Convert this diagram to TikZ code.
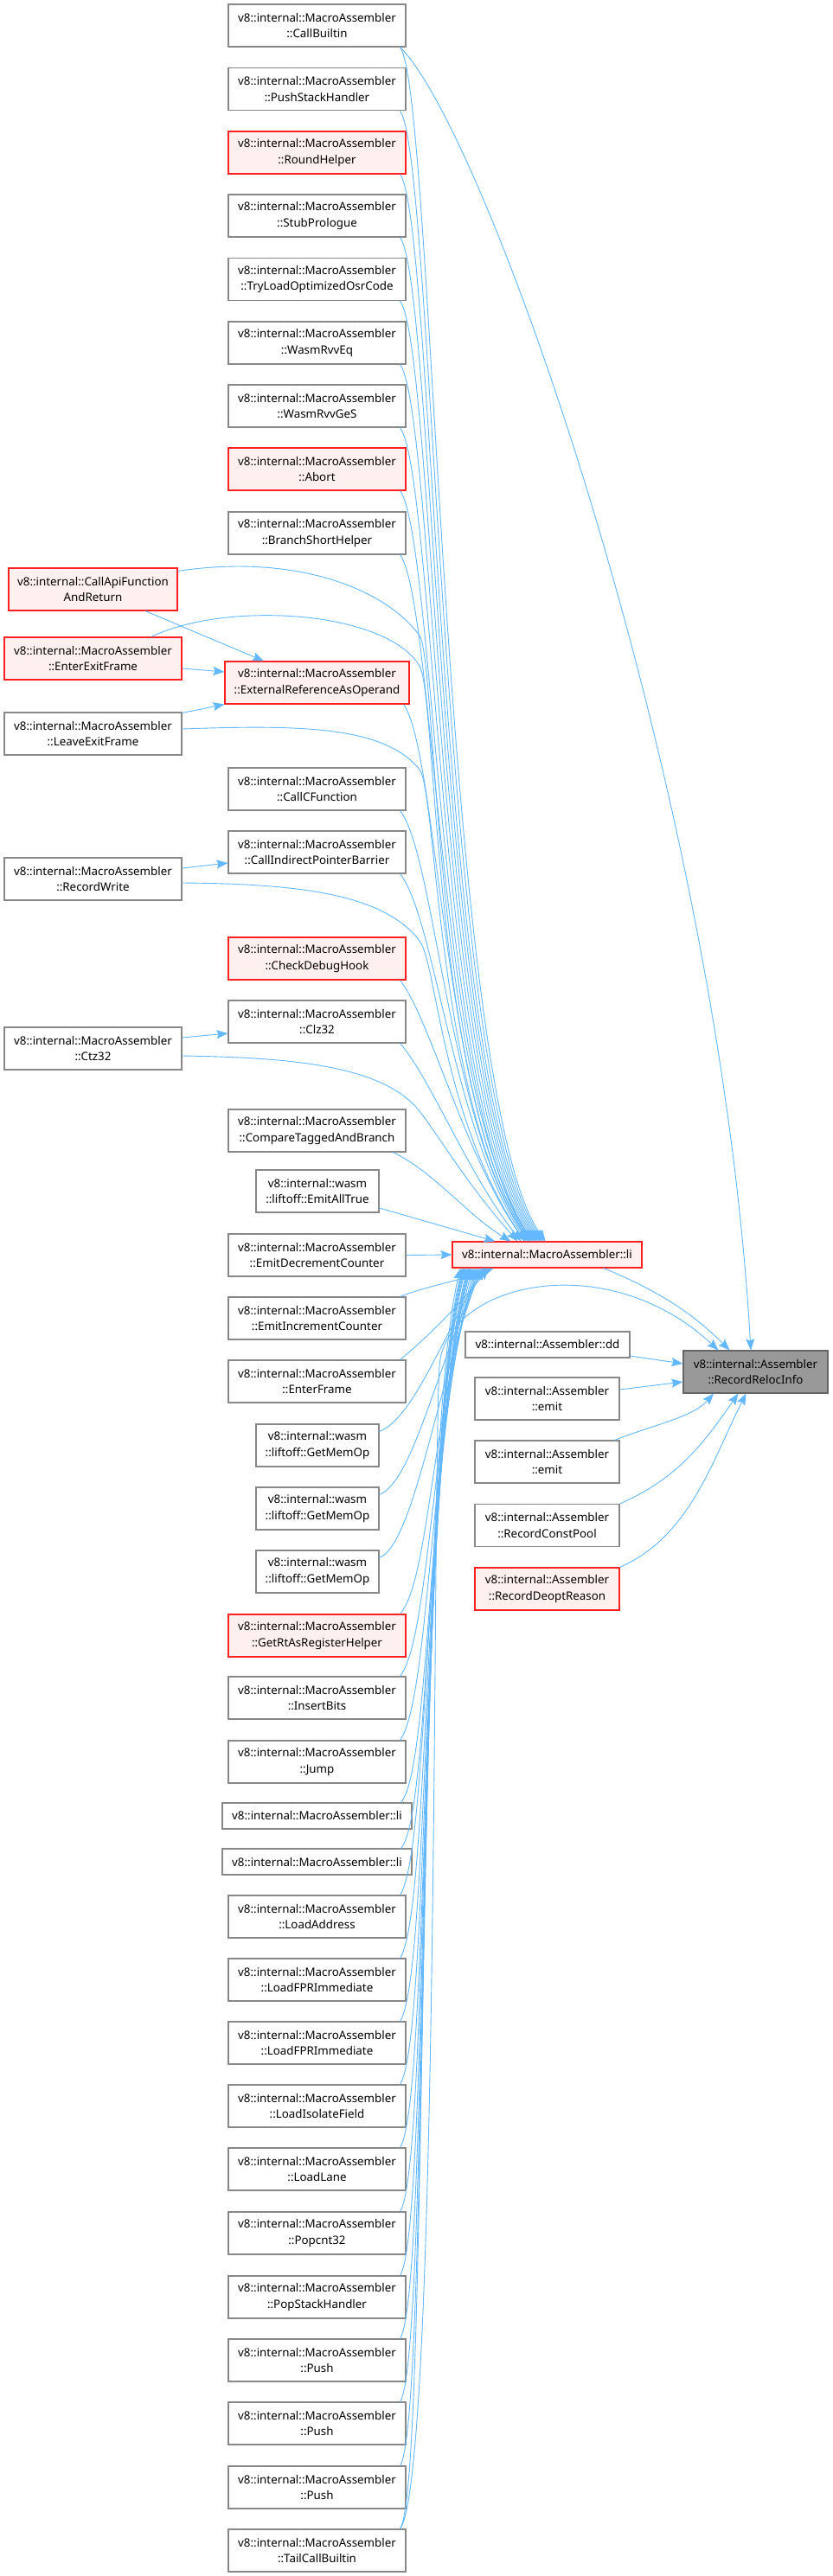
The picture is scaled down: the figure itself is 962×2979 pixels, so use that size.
\documentclass[tikz,border=0pt]{standalone}
\usepackage{fontspec}
\setmainfont{Noto Sans}
\usetikzlibrary{arrows.meta,calc}
\definecolor{edgeblue}{HTML}{63B8FF}
\definecolor{bord}{HTML}{888888}
\definecolor{redfill}{HTML}{FFF0F0}
\definecolor{redbord}{HTML}{FF2020}
\definecolor{mainfill}{HTML}{999999}
\definecolor{mainbord}{HTML}{666666}
\newcommand\nodefont{\fontsize{13.33}{18.6}\selectfont}
\newcommand\upE[4]{\draw[edge] ([xshift=-7pt]#1.south east) .. controls +(#2) and +(#3) .. ([xshift=#4pt]li.north);}
\newcommand\dnE[4]{\draw[edge] #1 .. controls +(#2) and +(#3) .. ([xshift=#4pt]li.south);}
\begin{document}
\begin{tikzpicture}[x=1pt,y=-1pt,
  box/.style={draw=bord, fill=white, line width=1.1pt, align=center, inner sep=0pt, font=\nodefont, text=black},
  std/.style={box, minimum width=205pt, minimum height=49pt},
  one/.style={box, minimum height=30pt},
  redb/.style={draw=redbord, fill=redfill},
  edge/.style={draw=edgeblue, line width=0.9pt, -{Stealth[length=13pt,width=10pt,inset=2pt]}}]
\useasboundingbox (0,0) rectangle (962,2979);
\fill[white] (0,0) rectangle (962,2979);
% column 2
\node[std] (cb) at (366.5,29.5) {v8::internal::MacroAssembler\\::CallBuiltin};
\node[std] (psh) at (366.5,103.2) {v8::internal::MacroAssembler\\::PushStackHandler};
\node[std,redb] (rh) at (366.5,176.5) {v8::internal::MacroAssembler\\::RoundHelper};
\node[std] (sp) at (366.5,249.5) {v8::internal::MacroAssembler\\::StubPrologue};
\node[std] (tlo) at (366.5,323) {v8::internal::MacroAssembler\\::TryLoadOptimizedOsrCode};
\node[std] (eq) at (366.5,396.5) {v8::internal::MacroAssembler\\::WasmRvvEq};
\node[std] (ges) at (366.5,469.5) {v8::internal::MacroAssembler\\::WasmRvvGeS};
\node[std,redb] (ab) at (366.5,542.5) {v8::internal::MacroAssembler\\::Abort};
\node[std] (bsh) at (366.5,616.5) {v8::internal::MacroAssembler\\::BranchShortHelper};
\node[std,redb,minimum width=213pt] (era) at (366.5,789.5) {v8::internal::MacroAssembler\\::ExternalReferenceAsOperand};
\node[std] (ccf) at (366.5,912.5) {v8::internal::MacroAssembler\\::CallCFunction};
\node[std] (cipb) at (366.5,985.5) {v8::internal::MacroAssembler\\::CallIndirectPointerBarrier};
\node[std,redb] (cdh) at (366.5,1108.5) {v8::internal::MacroAssembler\\::CheckDebugHook};
\node[std] (clz) at (366.5,1181.5) {v8::internal::MacroAssembler\\::Clz32};
\node[std] (ctab) at (366.5,1307.5) {v8::internal::MacroAssembler\\::CompareTaggedAndBranch};
\node[std,minimum width=142pt] (eat) at (367,1377.5) {v8::internal::wasm\\::liftoff::EmitAllTrue};
\node[std] (edc) at (366.5,1451.5) {v8::internal::MacroAssembler\\::EmitDecrementCounter};
\node[std] (eic) at (366.5,1524.5) {v8::internal::MacroAssembler\\::EmitIncrementCounter};
\node[std] (ef) at (366.5,1597.5) {v8::internal::MacroAssembler\\::EnterFrame};
\node[std,minimum width=142pt] (gm1) at (367,1671.5) {v8::internal::wasm\\::liftoff::GetMemOp};
\node[std,minimum width=142pt] (gm2) at (367,1744.5) {v8::internal::wasm\\::liftoff::GetMemOp};
\node[std,minimum width=142pt] (gm3) at (367,1817.5) {v8::internal::wasm\\::liftoff::GetMemOp};
\node[std,redb] (grh) at (366.5,1891.5) {v8::internal::MacroAssembler\\::GetRtAsRegisterHelper};
\node[std] (ib) at (366.5,1963.5) {v8::internal::MacroAssembler\\::InsertBits};
\node[std] (jp) at (366.5,2037.5) {v8::internal::MacroAssembler\\::Jump};
\node[one,minimum width=219pt] (lia) at (366.5,2100) {v8::internal::MacroAssembler::li};
\node[one,minimum width=219pt] (lib) at (366.5,2153) {v8::internal::MacroAssembler::li};
\node[std] (la) at (366.5,2216.5) {v8::internal::MacroAssembler\\::LoadAddress};
\node[std] (lf1) at (366.5,2289.5) {v8::internal::MacroAssembler\\::LoadFPRImmediate};
\node[std] (lf2) at (366.5,2362.5) {v8::internal::MacroAssembler\\::LoadFPRImmediate};
\node[std] (lif) at (366.5,2435.5) {v8::internal::MacroAssembler\\::LoadIsolateField};
\node[std] (ll) at (366.5,2508.5) {v8::internal::MacroAssembler\\::LoadLane};
\node[std] (pc) at (366.5,2582.5) {v8::internal::MacroAssembler\\::Popcnt32};
\node[std] (pop) at (366.5,2656.5) {v8::internal::MacroAssembler\\::PopStackHandler};
\node[std] (pu1) at (366.5,2729.5) {v8::internal::MacroAssembler\\::Push};
\node[std] (pu2) at (366.5,2802.5) {v8::internal::MacroAssembler\\::Push};
\node[std] (pu3) at (366.5,2876.5) {v8::internal::MacroAssembler\\::Push};
\node[std] (tcb) at (366.5,2949.5) {v8::internal::MacroAssembler\\::TailCallBuiltin};
% column 1
\node[std,redb,minimum width=195pt] (cafr) at (107.5,681.5) {v8::internal::CallApiFunction\\AndReturn};
\node[std,redb] (eef) at (107.5,761.5) {v8::internal::MacroAssembler\\::EnterExitFrame};
\node[std] (lef) at (107.5,848.5) {v8::internal::MacroAssembler\\::LeaveExitFrame};
\node[std] (rw) at (107.5,1016.5) {v8::internal::MacroAssembler\\::RecordWrite};
\node[std] (ctz) at (107.5,1212.5) {v8::internal::MacroAssembler\\::Ctz32};
% right side
\node[one,redb,minimum width=219pt] (li) at (632.5,1451) {v8::internal::MacroAssembler::li};
\node[one,minimum width=190pt] (dd) at (633,1555) {v8::internal::Assembler::dd};
\node[box,draw=mainbord,fill=mainfill,minimum width=167pt,minimum height=49pt] (rri) at (873.5,1586.5) {v8::internal::Assembler\\::RecordRelocInfo};
\node[std,minimum width=167pt] (em1) at (632.5,1617.5) {v8::internal::Assembler\\::emit};
\node[std,minimum width=167pt] (em2) at (632.5,1690.5) {v8::internal::Assembler\\::emit};
\node[std,minimum width=167pt] (rcp) at (632.5,1764) {v8::internal::Assembler\\::RecordConstPool};
\node[std,redb,minimum width=167pt] (rdr) at (632.5,1837.5) {v8::internal::Assembler\\::RecordDeoptReason};
% edges from upper column-2 nodes to li
\upE{cb}{40,55}{-120,-170}{-2}
\upE{psh}{40,55}{-120,-170}{-4}
\upE{rh}{40,55}{-120,-170}{-6}
\upE{sp}{40,55}{-118,-168}{-8}
\upE{tlo}{40,55}{-116,-166}{-10}
\upE{eq}{40,55}{-114,-164}{-12}
\upE{ges}{40,55}{-112,-162}{-14}
\upE{ab}{40,55}{-110,-160}{-16}
\upE{bsh}{40,55}{-106,-156}{-18}
\upE{era}{40,55}{-100,-150}{-20}
\upE{ccf}{40,50}{-92,-140}{-22}
\upE{cipb}{40,50}{-85,-130}{-24}
\upE{cdh}{35,45}{-70,-100}{-26}
\upE{clz}{35,40}{-60,-75}{-30}
\draw[edge] ([xshift=-15pt]ctab.south east) .. controls +(50,25) and +(-50,-30) .. ([xshift=-42pt]li.north);
\draw[edge] ($(eat.east)+(0,19.5)$) -- ([xshift=-60pt]li.north);
\draw[edge] (edc.east) -- (li.west);
% edges from lower column-2 nodes to li
\dnE{([xshift=-7pt]eic.north east)}{30,-12}{-30,12}{-62}
\dnE{([xshift=-7pt]ef.north east)}{30,-25}{-35,45}{-68}
\dnE{($(gm1.north east)+(0,9)$)}{40,-15}{-45,70}{-72}
\dnE{($(gm2.north east)+(0,9)$)}{40,-15}{-50,100}{-74}
\dnE{($(gm3.north east)+(0,9)$)}{40,-15}{-50,130}{-76}
\dnE{([xshift=-7pt]grh.north east)}{35,-40}{-55,150}{-78}
\dnE{([xshift=-7pt]ib.north east)}{35,-45}{-55,170}{-80}
\dnE{([xshift=-7pt]jp.north east)}{35,-50}{-55,190}{-82}
\dnE{([xshift=-13pt]lia.north east)}{35,-40}{-55,200}{-84}
\dnE{([xshift=-13pt]lib.north east)}{35,-40}{-55,200}{-86}
\dnE{([xshift=-7pt]la.north east)}{35,-55}{-55,210}{-88}
\dnE{([xshift=-7pt]lf1.north east)}{35,-55}{-55,215}{-89}
\dnE{([xshift=-7pt]lf2.north east)}{35,-55}{-55,220}{-90}
\dnE{([xshift=-7pt]lif.north east)}{35,-55}{-55,220}{-91}
\dnE{([xshift=-7pt]ll.north east)}{35,-55}{-55,220}{-92}
\dnE{([xshift=-7pt]pc.north east)}{35,-55}{-55,220}{-94}
\dnE{([xshift=-7pt]pop.north east)}{35,-55}{-55,220}{-95}
\dnE{([xshift=-7pt]pu1.north east)}{35,-55}{-55,220}{-96}
\dnE{([xshift=-7pt]pu2.north east)}{35,-55}{-55,220}{-97}
\dnE{([xshift=-7pt]pu3.north east)}{35,-55}{-55,220}{-98}
\dnE{([xshift=-7pt]tcb.north east)}{35,-55}{-55,220}{-100}
% column 1 to li
\draw[edge] ($(cafr.north east)+(0,4)$) .. controls (340,640) and (445,680) .. (485,735) .. controls (505,762) and (500,1250) .. ([xshift=-18pt]li.north);
\draw[edge] ([xshift=67.5pt]eef.north) .. controls (260,695) and (445,705) .. (485,770) .. controls (505,802) and (500,1260) .. ([xshift=-20pt]li.north);
\draw[edge] ($(lef.east)+(0,-5.5)$) .. controls (350,838) and (445,840) .. (485,890) .. controls (505,915) and (505,1270) .. ([xshift=-22pt]li.north);
\draw[edge] ($(rw.east)+(0,4.5)$) .. controls (350,1022) and (445,1035) .. (485,1088) .. controls (505,1114) and (510,1290) .. ([xshift=-26pt]li.north);
\draw[edge] ($(ctz.east)+(0,8.5)$) .. controls (350,1223) and (445,1235) .. (485,1285) .. controls (505,1310) and (540,1370) .. ([xshift=-34pt]li.north);
% column 1 to column 2
\draw[edge] ([xshift=60.5pt]cafr.south) -- ([xshift=-61.5pt]era.north);
\draw[edge] ($(eef.east)+(0,11.5)$) -- ($(era.west)+(0,-12.5)$);
\draw[edge] ($(lef.north east)+(0,1)$) -- (era.south west);
\draw[edge] ($(rw.east)+(0,-12.5)$) -- ($(cipb.west)+(0,12.5)$);
\draw[edge] ($(ctz.east)+(0,-12.5)$) -- ($(clz.west)+(0,13.5)$);
% edges into RecordRelocInfo
\draw[edge] ([xshift=65.5pt]li.south) .. controls +(60,25) and +(-45,-45) .. ([xshift=-30pt]rri.north);
\draw[edge] ([xshift=-7pt]cb.south east) .. controls +(98,96) and +(-38,-657) .. ([xshift=-5.5pt]rri.north);
\draw[edge] ([xshift=-7pt]tcb.north east) .. controls +(45,-60) and (500,1700) .. (508,1580) .. controls (514,1484) and (700,1440) .. ([xshift=-43pt]rri.north);
\draw[edge] ($(dd.east)+(0,13)$) -- ($(rri.west)+(0,-9.5)$);
\draw[edge] ($(em1.east)+(0,-10.5)$) -- ($(rri.west)+(0,11.5)$);
\draw[edge] ([xshift=-6pt]em2.north east) .. controls +(45,-18) and +(-25,28) .. ([xshift=-48.5pt]rri.south);
\draw[edge] (rcp.north east) .. controls +(70,-30) and +(-35,50) .. ([xshift=-20pt]rri.south);
\draw[edge] (rdr.north east) .. controls +(80,-35) and +(-40,80) .. ([xshift=-11pt]rri.south);
\end{tikzpicture}
\end{document}
